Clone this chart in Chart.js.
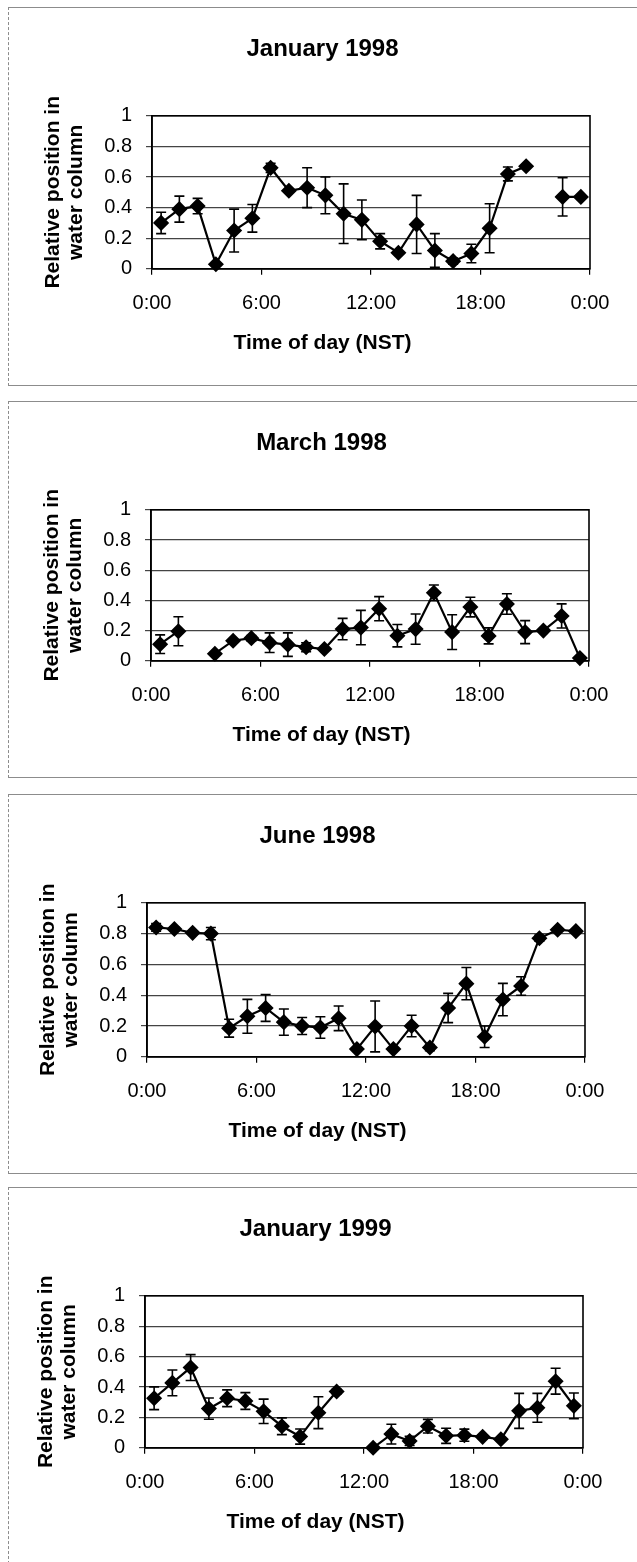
<!DOCTYPE html>
<html>
<head>
<meta charset="utf-8">
<script src="https://cdn.jsdelivr.net/npm/chart.js@4/dist/chart.umd.min.js"></script>
<style>
  html, body { margin: 0; padding: 0; background: #fff; }
  body { width: 637px; height: 1562px; position: relative; overflow: hidden; }
  .panel { position: absolute; left: 8px; width: 660px; border: 1px solid #8c8c8c; border-left-style: dashed; }
  .panel canvas { position: absolute; top: 0; }
</style>
</head>
<body>
<div class="panel" id="p0" style="top:7px;height:377px"><canvas id="c0" width="628" height="377"></canvas></div>
<div class="panel" id="p1" style="top:401px;height:375px"><canvas id="c1" width="628" height="375"></canvas></div>
<div class="panel" id="p2" style="top:794px;height:378px"><canvas id="c2" width="628" height="378"></canvas></div>
<div class="panel" id="p3" style="top:1187px;height:380px"><canvas id="c3" width="628" height="376"></canvas></div>
<script>
// sampling times (hours, NST)
const hours = [0.5, 1.5, 2.5, 3.5, 4.5, 5.5, 6.5, 7.5, 8.5, 9.5, 10.5, 11.5,
               12.5, 13.5, 14.5, 15.5, 16.5, 17.5, 18.5, 19.5, 20.5, 21.5, 22.5, 23.5];
const xTickLabels = ['0:00', '6:00', '12:00', '18:00', '0:00'];
const titles = ['January 1998', 'March 1998', 'June 1998', 'January 1999'];

const jan98 = [0.30, 0.39, 0.41, 0.03, 0.25, 0.33, 0.66, 0.51, 0.53, 0.48, 0.36, 0.32,
               0.18, 0.105, 0.29, 0.12, 0.05, 0.10, 0.265, 0.62, 0.67, null, 0.47, 0.47];
const jan98Err = [0.07, 0.085, 0.05, 0, 0.14, 0.09, 0.03, 0, 0.13, 0.12, 0.195, 0.13,
                  0.05, 0, 0.19, 0.11, 0.02, 0.06, 0.16, 0.045, 0, 0, 0.125, 0];

const mar98 = [0.11, 0.196, null, 0.047, 0.133, 0.15, 0.12, 0.107, 0.09, 0.078, 0.21, 0.22,
               0.345, 0.166, 0.21, 0.45, 0.19, 0.356, 0.165, 0.376, 0.19, 0.2, 0.297, 0.018];
const mar98Err = [0.062, 0.096, 0, 0, 0, 0.018, 0.065, 0.078, 0.03, 0, 0.071, 0.114,
                  0.08, 0.074, 0.1, 0.052, 0.115, 0.065, 0.053, 0.068, 0.076, 0.01, 0.08, 0];

const jun98 = [0.84, 0.83, 0.805, 0.80, 0.186, 0.263, 0.317, 0.225, 0.20, 0.19, 0.25, 0.05,
               0.197, 0.05, 0.20, 0.06, 0.317, 0.475, 0.13, 0.372, 0.46, 0.77, 0.825, 0.816];
const jun98Err = [0.025, 0.012, 0, 0.04, 0.058, 0.11, 0.087, 0.085, 0.055, 0.07, 0.08, 0,
                  0.165, 0, 0.07, 0.02, 0.095, 0.105, 0.07, 0.105, 0.06, 0.02, 0, 0.012];

const jan99 = [0.326, 0.427, 0.528, 0.258, 0.326, 0.308, 0.24, 0.142, 0.074, 0.231, 0.37, null,
               0, 0.09, 0.045, 0.142, 0.079, 0.083, 0.072, 0.056, 0.243, 0.263, 0.438, 0.276];
const jan99Err = [0.075, 0.085, 0.085, 0.07, 0.055, 0.055, 0.08, 0.055, 0.05, 0.105, 0.015, 0,
                  0, 0.065, 0.03, 0.045, 0.05, 0.04, 0.012, 0.01, 0.115, 0.095, 0.085, 0.085];

const series = [jan98, mar98, jun98, jan99];
const errors = [jan98Err, mar98Err, jun98Err, jan99Err];
const shifts = [0, -1, -5, -7];

const FONT = "'Liberation Sans', Arial, sans-serif";

// plot area frame
const framePlugin = {
    id: 'frame',
    afterDraw(chart) {
        const a = chart.chartArea;
        const ctx = chart.ctx;
        ctx.save();
        ctx.strokeStyle = '#000';
        ctx.lineWidth = 1.6;
        ctx.strokeRect(a.left, a.top, a.right - a.left, a.bottom - a.top);
        ctx.restore();
    }
};

// +/- error bars drawn through the chart scales
const errorBarPlugin = {
    id: 'errorBars',
    beforeDatasetsDraw(chart) {
        const ds = chart.data.datasets[0];
        const xs = chart.scales.x, ys = chart.scales.y;
        const ctx = chart.ctx;
        ctx.save();
        ctx.strokeStyle = '#000';
        ctx.lineWidth = 1.6;
        ds.data.forEach((p, i) => {
            const e = ds.errors[i];
            if (p.y === null || !e) return;
            const x = xs.getPixelForValue(p.x);
            const y1 = ys.getPixelForValue(p.y + e);
            const y2 = ys.getPixelForValue(Math.max(p.y - e, 0));
            ctx.beginPath();
            ctx.moveTo(x, y1); ctx.lineTo(x, y2);
            ctx.moveTo(x - 5, y1); ctx.lineTo(x + 5, y1);
            ctx.moveTo(x - 5, y2); ctx.lineTo(x + 5, y2);
            ctx.stroke();
        });
        ctx.restore();
    }
};

series.forEach((vals, k) => {
    const canvas = document.getElementById('c' + k);
    canvas.style.left = shifts[k] + 'px';
    new Chart(canvas.getContext('2d'), {
        type: 'line',
        data: {
            datasets: [{
                data: hours.map((h, i) => ({ x: h, y: vals[i] })),
                errors: errors[k],
                borderColor: '#000',
                borderWidth: 2.2,
                backgroundColor: '#000',
                pointStyle: 'rectRot',
                pointRadius: 6.5,
                pointBackgroundColor: '#000',
                pointBorderColor: '#000',
                spanGaps: false,
                clip: false,
                tension: 0
            }]
        },
        options: {
            responsive: false,
            animation: false,
            events: [],
            layout: { padding: { left: 46, right: 47, top: 0, bottom: 0 } },
            plugins: {
                legend: { display: false },
                tooltip: { enabled: false },
                title: {
                    display: true,
                    text: titles[k],
                    color: '#000',
                    font: { family: FONT, size: 24, weight: 'bold', lineHeight: 1.2 },
                    padding: { top: 27, bottom: 52 }
                },
                subtitle: {
                    display: true,
                    position: 'bottom',
                    text: 'Time of day (NST)',
                    color: '#000',
                    font: { family: FONT, size: 21, weight: 'bold', lineHeight: 1.2 },
                    padding: { top: 2, bottom: 29 }
                }
            },
            scales: {
                x: {
                    type: 'linear',
                    min: 0,
                    max: 24,
                    afterFit(scale) { scale.height = 60; },
                    afterBuildTicks(scale) {
                        scale.ticks = xTickLabels.map((_, i) => ({ value: i * 6 }));
                    },
                    ticks: {
                        color: '#000',
                        font: { family: FONT, size: 20 },
                        padding: 17,
                        maxRotation: 0,
                        callback: (v, i) => xTickLabels[i]
                    },
                    grid: { drawOnChartArea: false, drawTicks: true, tickLength: 6, color: '#000', lineWidth: 1.2 },
                    border: { color: '#000', width: 1.6 }
                },
                y: {
                    min: 0,
                    max: 1,
                    afterFit(scale) { scale.width = 97; },
                    ticks: {
                        stepSize: 0.2,
                        color: '#000',
                        font: { family: FONT, size: 20 },
                        padding: 14,
                        callback: v => String(+v.toFixed(1))
                    },
                    grid: { color: '#444', lineWidth: 1.2, drawTicks: true, tickLength: 6 },
                    border: { color: '#000', width: 1.6 },
                    title: {
                        display: true,
                        text: ['Relative position in', 'water column'],
                        color: '#000',
                        font: { family: FONT, size: 21, weight: 'bold', lineHeight: 1.1 },
                        padding: { top: -13, bottom: 0 }
                    }
                }
            }
        },
        plugins: [framePlugin, errorBarPlugin]
    });
});
</script>
</body>
</html>
